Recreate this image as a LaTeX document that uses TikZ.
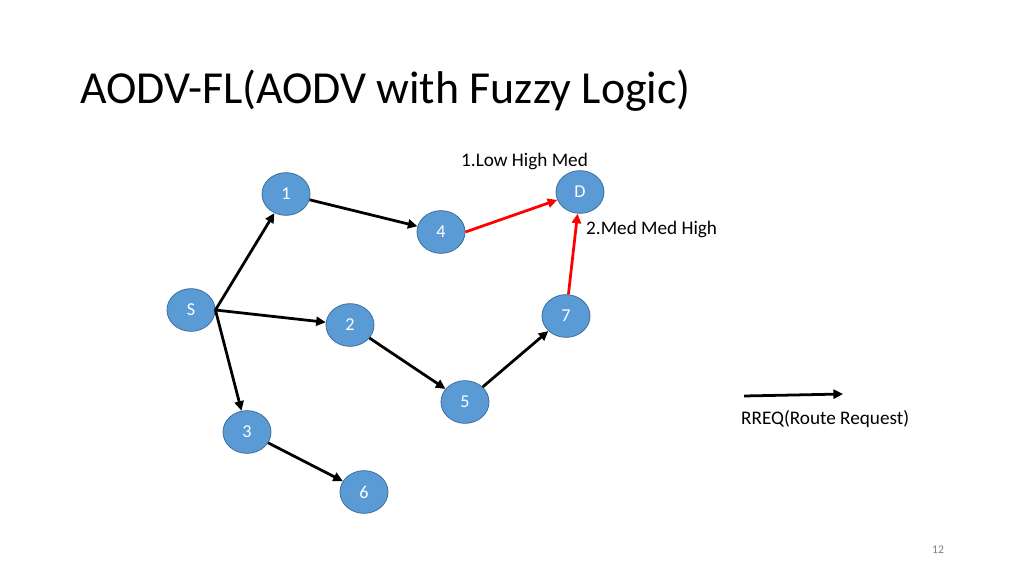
\documentclass[tikz,border=0pt]{standalone}
\usepackage{fontspec}
\setmainfont{Carlito}
\usetikzlibrary{shapes.geometric,arrows.meta}
\definecolor{nodefill}{HTML}{5B9BD5}
\definecolor{nodeline}{HTML}{41719C}
\definecolor{redline}{HTML}{FF0000}
\begin{document}
\begin{tikzpicture}[x=0.9375pt,y=-0.9375pt,
  nd/.style={ellipse,draw=nodeline,line width=0.8pt,fill=nodefill,text=white,
    minimum width=45pt,minimum height=40pt,inner sep=0pt,font=\fontsize{17}{20}\selectfont},
  arr/.style={line width=2.6pt,-{Triangle[length=9pt,width=8.5pt]}},
  rarr/.style={arr,draw=redline,-{Triangle[length=9pt,width=8.5pt,fill=redline]}},
  lbl/.style={anchor=base west,inner sep=0pt,font=\fontsize{18}{21}\selectfont}]
\useasboundingbox (0,0) rectangle (1024,576);
\node[anchor=base west,inner sep=0pt,font=\fontsize{43}{50}\selectfont] (title) at (80,104) {AODV-FL(AODV with Fuzzy Logic)};
\node[nd] (n1) at (286,194) {1};
\node[nd] (n4) at (441,232) {4};
\node[nd] (nD) at (580,192) {D};
\node[nd] (nS) at (191,310) {S};
\node[nd] (n2) at (350,325) {2};
\node[nd] (n7) at (566,316) {7};
\node[nd] (n5) at (465,402) {5};
\node[nd] (n3) at (247,432) {3};
\node[nd] (n6) at (364,492) {6};
\draw[arr] (nS.east) -- (n1);
\draw[arr] (nS.east) -- (n2);
\draw[arr] (nS.east) -- (n3);
\draw[arr] (n1) -- (n4);
\draw[arr] (n2) -- (n5);
\draw[arr] (n5) -- (n7);
\draw[arr] (n3) -- (n6);
\draw[rarr] (n4.east) -- (nD);
\draw[rarr] (n7) -- (nD);
\node[lbl] (l1) at (461,167) {1.Low High Med};
\node[lbl] (l2) at (586,234) {2.Med Med High};
\coordinate (la) at (744,396);
\coordinate (lb) at (843,394);
\draw[arr] (la) -- (lb);
\node[lbl] (leg) at (741,424) {RREQ(Route Request)};
\node[anchor=base,inner sep=0pt,font=\fontsize{11}{13}\selectfont,text=gray] (pg) at (938,553) {12};
\end{tikzpicture}
\end{document}
